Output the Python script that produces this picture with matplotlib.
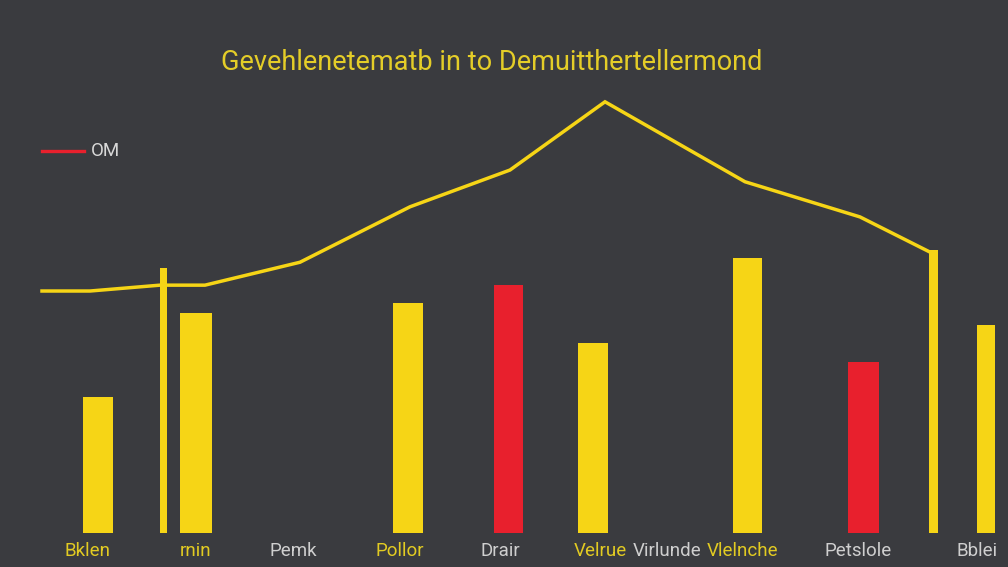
import matplotlib
matplotlib.use("Agg")
import matplotlib.pyplot as plt
from matplotlib.lines import Line2D

# ---- data ----
bar_pos = [98, 163, 196, 408, 508, 593, 747, 863, 933, 986]
bar_vals = [25.5, 49.7, 41.3, 43.2, 46.5, 35.6, 51.6, 32.1, 53.1, 39.0]
bar_widths = [30, 7, 32, 30, 29, 30, 29, 31, 9, 18]
bar_kind = ["y", "y", "y", "y", "r", "y", "y", "r", "y", "y"]

line_x = [42, 90, 160, 205, 300, 410, 510, 605, 745, 860, 930]
line_y = [45.4, 45.4, 46.5, 46.5, 50.8, 61.2, 68.1, 80.9, 65.9, 59.3, 52.7]

labels = ["Bklen", "rnin", "Pemk", "Pollor", "Drair", "Velrue", "Virlunde", "Vlelnche", "Petslole", "Bblei"]
label_pos = [88, 196, 293, 400, 500, 600, 667, 743, 858, 977]
label_kind = ["y", "y", "g", "y", "g", "y", "g", "y", "g", "g"]

title = "Gevehlenetematb in to Demuitthertellermond"
legend_label = "OM"

# ---- style ----
BG = "#3a3b3f"
YEL = "#f6d516"
RED = "#e8202d"
colors = {"y": YEL, "r": RED}
lab_colors = {"y": "#e2cb22", "g": "#cfcfcf"}

fig = plt.figure(figsize=(10.08, 5.67), dpi=100, facecolor=BG)
ax = fig.add_axes([0, 34 / 567, 1, 533 / 567])
ax.set_facecolor(BG)
ax.set_xlim(0, 1008)
ax.set_ylim(0, 100)
for s in ax.spines.values():
    s.set_visible(False)
ax.set_xticks([])
ax.set_yticks([])

ax.bar(bar_pos, bar_vals, width=bar_widths, color=[colors[k] for k in bar_kind], zorder=2)
ax.plot(line_x, line_y, color=YEL, lw=2.5, zorder=3, solid_joinstyle="miter")

for lab, x, k in zip(labels, label_pos, label_kind):
    fig.text(x / 1008, 1 - 551 / 567, lab, color=lab_colors[k], fontsize=13.5,
             ha="center", va="center", family="Roboto")

fig.text(492 / 1008, 1 - 62 / 567, title, color="#e4cd28", fontsize=19.5,
         ha="center", va="center", family="Roboto")

fig.add_artist(Line2D([42 / 1008, 84 / 1008], [1 - 151 / 567, 1 - 151 / 567],
                      color=RED, lw=2.4, transform=fig.transFigure))
fig.text(91 / 1008, 1 - 151 / 567, legend_label, color="#d8d8d8", fontsize=13.5,
         ha="left", va="center", family="Roboto")

fig.savefig("out.png", dpi=100, facecolor=BG)
